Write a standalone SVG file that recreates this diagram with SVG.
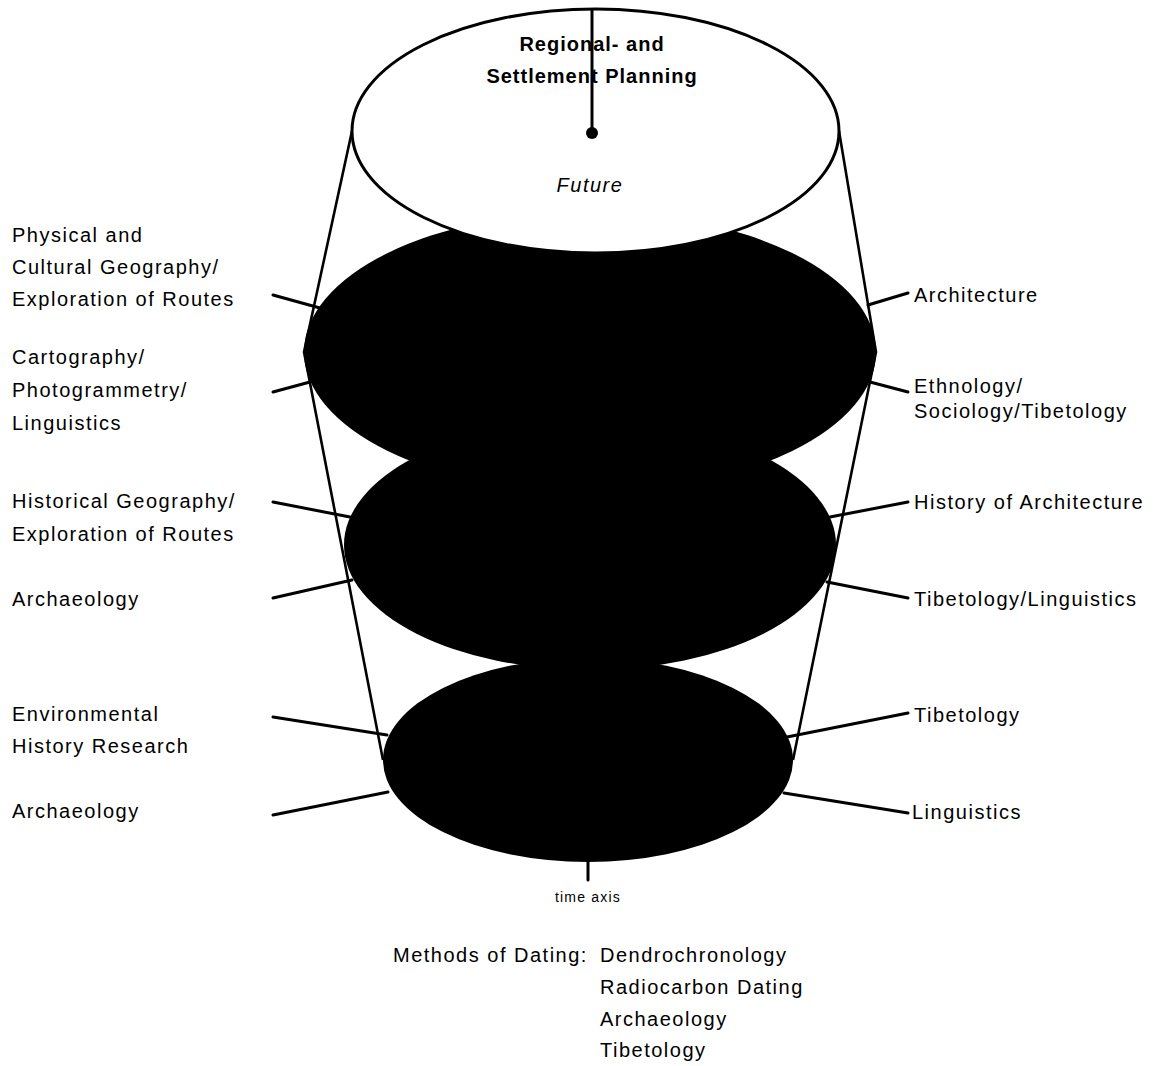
<svg xmlns="http://www.w3.org/2000/svg" width="1153" height="1066" viewBox="0 0 1153 1066">
<style>
.lbl{font-family:"Liberation Sans",Arial,sans-serif;font-size:20px;letter-spacing:1.5px;fill:#000}
.ttl{font-family:"Liberation Sans",Arial,sans-serif;font-size:20px;font-weight:bold;letter-spacing:1px;fill:#000;text-anchor:middle}
.disc{fill:#000;stroke:none}
.ln{stroke:#000;stroke-width:3;fill:none;stroke-linecap:round}
.side{stroke:#000;stroke-width:2.6;fill:none;stroke-linejoin:round}
</style>
<rect width="1153" height="1066" fill="#fff"/>
<g id="disc-past">
<ellipse class="disc" cx="588" cy="760" rx="205" ry="102"/>
</g>
<g id="disc-middle">
<ellipse class="disc" cx="590" cy="545" rx="246" ry="125"/>
</g>
<g id="disc-present">
<ellipse class="disc" cx="590" cy="352" rx="286" ry="140"/>
</g>
<g id="connectors">
<polyline class="side" points="352,131 304,352 383,760"/>
<polyline class="side" points="839,131 876,352 793,760"/>
<line class="ln" x1="273" y1="295" x2="320" y2="308"/>
<line class="ln" x1="273" y1="392" x2="310" y2="382"/>
<line class="ln" x1="273" y1="502" x2="350" y2="517"/>
<line class="ln" x1="273" y1="598" x2="352" y2="580"/>
<line class="ln" x1="273" y1="717" x2="387" y2="735"/>
<line class="ln" x1="273" y1="815" x2="388" y2="792"/>
<line class="ln" x1="868" y1="305" x2="908" y2="293"/>
<line class="ln" x1="870" y1="382" x2="908" y2="392"/>
<line class="ln" x1="830" y1="517" x2="908" y2="502"/>
<line class="ln" x1="827" y1="582" x2="908" y2="598"/>
<line class="ln" x1="787" y1="737" x2="908" y2="713"/>
<line class="ln" x1="784" y1="793" x2="908" y2="813"/>
<line class="ln" x1="588" y1="860" x2="588" y2="880"/>
</g>
<g id="disc-future">
<ellipse cx="595.5" cy="131" rx="243.5" ry="122" fill="#fff" stroke="#000" stroke-width="3"/>
<line x1="592" y1="9" x2="592" y2="133" stroke="#000" stroke-width="3"/>
<circle cx="592" cy="133" r="6" fill="#000"/>
<text class="ttl" x="592" y="51">Regional- and</text>
<text class="ttl" x="592" y="83">Settlement Planning</text>
<text class="lbl" x="590" y="192" text-anchor="middle" font-style="italic">Future</text>
</g>
<g id="label-geography">
<text class="lbl" x="12" y="242">Physical and</text>
<text class="lbl" x="12" y="274">Cultural Geography/</text>
<text class="lbl" x="12" y="306">Exploration of Routes</text>
</g>
<g id="label-cartography">
<text class="lbl" x="12" y="364">Cartography/</text>
<text class="lbl" x="12" y="397">Photogrammetry/</text>
<text class="lbl" x="12" y="430">Linguistics</text>
</g>
<g id="label-historical-geography">
<text class="lbl" x="12" y="508">Historical Geography/</text>
<text class="lbl" x="12" y="541">Exploration of Routes</text>
</g>
<g id="label-archaeology-1">
<text class="lbl" x="12" y="606">Archaeology</text>
</g>
<g id="label-environmental">
<text class="lbl" x="12" y="721">Environmental</text>
<text class="lbl" x="12" y="753">History Research</text>
</g>
<g id="label-archaeology-2">
<text class="lbl" x="12" y="818">Archaeology</text>
</g>
<g id="label-architecture">
<text class="lbl" x="914" y="302">Architecture</text>
</g>
<g id="label-ethnology">
<text class="lbl" x="914" y="393">Ethnology/</text>
<text class="lbl" x="914" y="418">Sociology/Tibetology</text>
</g>
<g id="label-history-architecture">
<text class="lbl" x="914" y="509">History of Architecture</text>
</g>
<g id="label-tibetology-linguistics">
<text class="lbl" x="914" y="606">Tibetology/Linguistics</text>
</g>
<g id="label-tibetology">
<text class="lbl" x="914" y="722">Tibetology</text>
</g>
<g id="label-linguistics">
<text class="lbl" x="912" y="819">Linguistics</text>
</g>
<g id="label-time-axis">
<text x="588" y="902" text-anchor="middle" font-family="Liberation Sans, Arial, sans-serif" font-size="14" letter-spacing="1.2">time axis</text>
</g>
<g id="label-methods">
<text class="lbl" x="393" y="962">Methods of Dating:</text>
<text class="lbl" x="600" y="962">Dendrochronology</text>
<text class="lbl" x="600" y="994">Radiocarbon Dating</text>
<text class="lbl" x="600" y="1026">Archaeology</text>
<text class="lbl" x="600" y="1057">Tibetology</text>
</g>
</svg>
